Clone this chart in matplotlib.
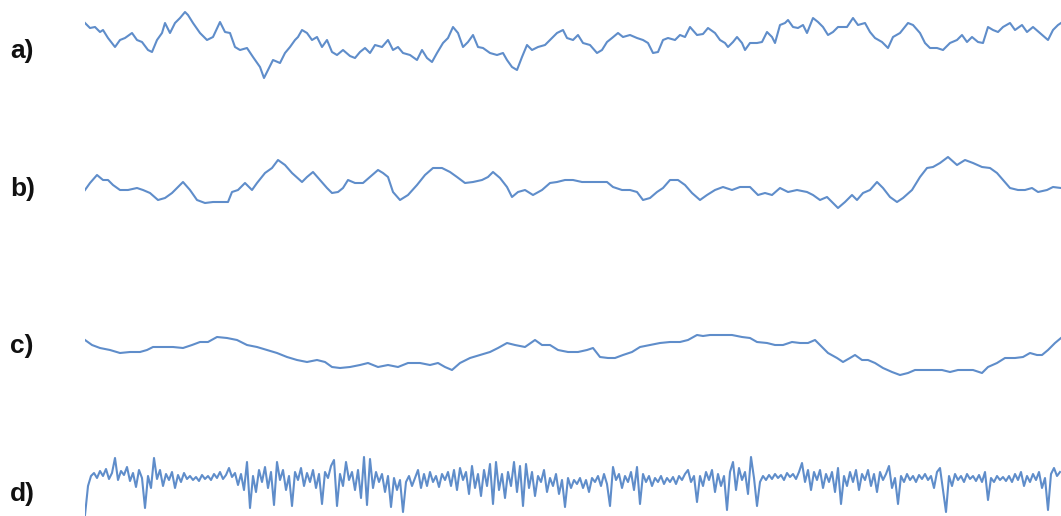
import numpy as np
import matplotlib
import matplotlib.pyplot as plt

matplotlib.use('Agg')

# --- data (time in samples, amplitude in arbitrary units) ---
labels = ['a)', 'b)', 'c)', 'd)']

a_time = [0, 5, 10, 15, 18, 23, 30, 35, 40, 47, 52, 57, 63, 67, 72, 77, 80, 85, 90, 95,
          100, 103, 108, 115, 122, 128, 135, 140, 145, 150, 155, 162, 168, 175, 179, 183, 188, 195, 200, 205,
          210, 213, 217, 222, 227, 232, 237, 242, 247, 252, 258, 265, 270, 275, 280, 285, 290, 297, 303, 308,
          313, 318, 325, 332, 337, 342, 347, 352, 358, 363, 368, 373, 378, 383, 388, 393, 398, 405, 412, 418,
          422, 427, 432, 437, 442, 447, 453, 460, 465, 472, 478, 482, 488, 493, 498, 505, 512, 517, 522, 527,
          533, 538, 545, 552, 558, 563, 568, 573, 578, 583, 590, 595, 600, 605, 612, 618, 623, 630, 635, 640,
          643, 648, 652, 657, 660, 665, 672, 677, 682, 687, 690, 695, 700, 703, 708, 713, 718, 722, 728, 733,
          738, 743, 748, 753, 762, 768, 773, 780, 785, 790, 797, 803, 808, 815, 823, 828, 835, 840, 845, 852,
          858, 865, 872, 877, 882, 887, 893, 898, 903, 908, 913, 918, 925, 930, 937, 942, 948, 955, 963, 968,
          973, 976]
a_value = [22, 17, 18, 13, 15, 7, -2, 5, 7, 12, 5, 3, -5, -7, 5, 12, 22, 12, 22, 27,
           33, 30, 22, 12, 5, 8, 23, 13, 12, -2, -5, -3, -12, -22, -33, -25, -15, -18, -8, -2,
           5, 8, 15, 12, 5, 8, -2, 5, -7, -10, -5, -11, -13, -7, -3, -8, 0, -2, 5, -5,
           -2, -8, -10, -15, -5, -13, -17, -8, 2, 7, 18, 12, -2, 3, 10, -2, -3, -8, -10, -8,
           -15, -22, -25, -12, 0, -5, -2, 0, 5, 12, 15, 7, 5, 10, 2, 0, -8, -5, 3, 7,
           12, 8, 10, 7, 5, 2, -8, -7, 5, 7, 5, 10, 8, 18, 10, 11, 17, 12, 5, 2,
           -2, 3, 8, 2, -5, 2, 2, 3, 13, 8, 2, 20, 22, 25, 18, 17, 20, 12, 27, 23,
           18, 10, 13, 18, 18, 27, 20, 22, 13, 7, 3, -3, 8, 12, 22, 20, 12, 2, -3, -3,
           -5, 2, 5, 10, 3, 8, 3, 2, 18, 15, 13, 18, 22, 15, 20, 13, 18, 12, 5, 15,
           20, 22]

b_time = [0, 5, 12, 18, 23, 28, 35, 43, 52, 58, 65, 73, 80, 87, 92, 98, 105, 112, 120, 128,
          137, 143, 147, 153, 160, 167, 172, 180, 187, 193, 200, 207, 217, 222, 228, 235, 242, 247, 253, 258,
          263, 270, 278, 285, 293, 298, 303, 308, 315, 323, 332, 340, 348, 357, 365, 372, 380, 388, 397, 403,
          408, 415, 422, 427, 433, 440, 448, 457, 465, 472, 480, 488, 497, 505, 513, 522, 528, 537, 545, 552,
          558, 565, 572, 578, 585, 593, 600, 607, 615, 622, 630, 638, 647, 655, 665, 673, 680, 687, 695, 703,
          712, 722, 728, 735, 742, 748, 753, 760, 767, 772, 778, 785, 792, 798, 805, 812, 818, 827, 835, 842,
          848, 855, 863, 872, 880, 888, 897, 905, 912, 918, 925, 933, 940, 947, 953, 962, 968, 976]
b_value = [0, 7, 15, 10, 10, 5, 0, 0, 2, 0, -3, -10, -8, -3, 2, 8, 0, -10, -13, -12,
           -12, -12, -2, 0, 7, 0, 7, 17, 22, 30, 25, 17, 8, 13, 18, 10, 2, -3, -2, 2,
           10, 7, 7, 13, 20, 17, 13, -2, -10, -5, 5, 15, 22, 22, 18, 13, 7, 8, 10, 13,
           18, 12, 3, -7, -2, 0, -5, 0, 7, 8, 10, 10, 8, 8, 8, 8, 3, 0, 0, -2,
           -10, -8, -2, 2, 10, 10, 5, -3, -10, -5, 0, 3, 0, 3, 3, -5, -3, -5, 2, -2,
           0, -2, -5, -10, -7, -13, -18, -12, -5, -10, -3, 0, 8, 2, -7, -12, -8, 0, 13, 22,
           23, 27, 33, 25, 30, 27, 23, 22, 17, 10, 2, 0, 0, 2, -2, 0, 3, 2]

c_time = [0, 7, 15, 25, 35, 45, 55, 62, 68, 78, 88, 98, 107, 115, 123, 132, 142, 152, 162, 172,
          182, 192, 202, 212, 222, 232, 240, 247, 255, 265, 275, 283, 293, 303, 313, 323, 335, 345, 353, 360,
          367, 375, 385, 395, 405, 413, 422, 430, 440, 450, 457, 465, 473, 483, 493, 502, 508, 515, 523, 530,
          538, 547, 555, 565, 575, 585, 595, 603, 612, 618, 625, 635, 647, 657, 665, 672, 682, 690, 698, 707,
          715, 723, 730, 737, 743, 752, 758, 765, 770, 777, 783, 790, 798, 807, 815, 823, 830, 838, 848, 857,
          865, 873, 882, 888, 897, 903, 912, 920, 930, 938, 945, 952, 957, 963, 970, 976]
c_value = [15, 10, 7, 5, 2, 3, 3, 5, 8, 8, 8, 7, 10, 13, 13, 18, 17, 15, 10, 8,
           5, 2, -2, -5, -7, -5, -7, -12, -13, -12, -10, -8, -12, -10, -12, -8, -8, -10, -8, -12,
           -15, -8, -3, 0, 3, 7, 12, 10, 8, 15, 10, 10, 5, 3, 3, 5, 7, -2, -3, -3,
           0, 3, 8, 10, 12, 13, 13, 15, 20, 19, 20, 20, 20, 18, 17, 13, 12, 10, 10, 13,
           12, 12, 15, 8, 2, -3, -7, -3, 0, -5, -5, -8, -13, -17, -20, -18, -15, -15, -15, -15,
           -17, -15, -15, -15, -18, -12, -8, -3, -3, -2, 2, 0, 0, 5, 12, 17]

d_step = 3
d_value = [-33, -4, 6, 9, 4, 11, 6, 13, 3, 9, 24, 2, 11, 7, 15, 1, 9, -5, 12, 4,
           -26, 6, -6, 24, 3, 12, -4, 8, 2, 10, -6, 7, 0, 9, 3, 6, 2, 5, 1, 7,
           3, 6, 2, 8, 4, 10, 3, 7, 14, 5, 9, -3, 8, -8, 20, -26, 6, -10, 12, 0,
           15, -6, 10, -23, 20, 2, 12, -8, 6, -24, 10, 2, 14, -4, 9, 0, 12, -6, 8, -22,
           10, 4, 16, 22, -24, 8, -4, 20, 2, 10, -8, 12, -16, 25, -23, 23, -6, 10, 0, 8,
           -10, 6, -25, 4, -8, 2, -30, 0, 6, -4, 4, 12, -6, 8, -4, 10, 0, 6, -5, 8,
           2, 10, -4, 12, -8, 14, 2, 10, -12, 16, -6, 8, -14, 12, -4, 18, -22, 20, -8, 8,
           -16, 10, -4, 20, -10, 16, -24, 18, -6, 10, -14, 6, 0, 12, -10, 4, -4, 8, -12, 2,
           -25, 4, -6, 2, -2, 4, -6, 2, -10, 4, 0, 6, -4, 8, -2, -24, 15, 2, 8, -6,
           6, 0, 10, -8, 15, -22, 8, 0, 6, -4, 4, 0, 6, -2, 4, 0, 5, -2, 6, 2,
           8, 12, 0, 6, -20, 6, -4, 10, 2, 12, -10, 8, -4, 6, -28, 10, 20, -8, 14, 2,
           10, -12, 25, 4, -24, 0, 6, 2, 7, 3, 8, 4, 7, 2, 9, 5, 8, 3, 10, 19,
           0, 12, -8, 10, 2, 12, -6, 8, 0, 10, -10, 14, -22, 6, -4, 10, 0, 12, -8, 8,
           2, 12, -4, 8, -10, 10, 2, 8, 16, -6, 4, -22, 6, 0, 8, 2, 6, 0, 7, 3,
           8, 2, 6, -6, 10, 14, -8, -30, 6, -4, 8, 2, 6, 0, 8, 3, 6, 1, 7, 0,
           10, -18, 4, 0, 6, 2, 5, 1, 6, 0, 8, 2, 10, -4, 6, 0, 8, 2, 10, -6,
           4, -28, 8, 14, 6, 10]
d_time = np.arange(len(d_value)) * d_step

series = [(a_time, a_value), (b_time, b_value), (c_time, c_value), (d_time, d_value)]

# --- layout ---
W, H = 1061, 516
line_color = '#5f8dca'
row_centers = [45, 190, 355, 482]   # pixel rows of each trace
label_rows = [51, 189, 346, 494]
line_widths = [1.5, 1.5, 1.5, 1.5]
row_half = 45
x0 = 85

fig = plt.figure(figsize=(W / 100, H / 100), dpi=100)
fig.patch.set_facecolor('white')

for (t, v), cy, ly, lab, lw in zip(series, row_centers, label_rows, labels, line_widths):
    bottom = (H - cy - row_half) / H
    ax = fig.add_axes([x0 / W, bottom, (W - x0) / W, 2 * row_half / H])
    ax.plot(t, v, color=line_color, lw=lw, solid_joinstyle='round')
    ax.set_xlim(0, W - x0)
    ax.set_ylim(-row_half, row_half)
    ax.axis('off')
    fig.text(10 / W, 1 - ly / H, lab, fontsize=19, fontweight='bold',
             family=['Liberation Sans', 'DejaVu Sans'], va='center', ha='left', color='#111111')

fig.savefig('out.png', dpi=100, facecolor='white')
